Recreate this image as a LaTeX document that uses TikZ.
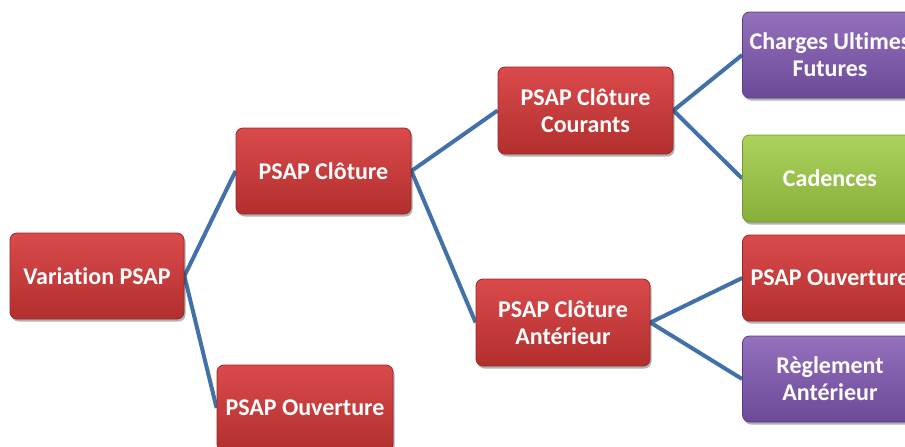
\documentclass[tikz,border=0pt]{standalone}
\usepackage{fontspec}
\setmainfont{Carlito}[Ligatures={NoCommon}]
\usetikzlibrary{shadows,backgrounds}
\definecolor{redtop}{HTML}{DA4A4B}
\definecolor{redbot}{HTML}{B22F2E}
\definecolor{redline}{HTML}{982828}
\definecolor{purtop}{HTML}{9470BD}
\definecolor{purbot}{HTML}{6C4A97}
\definecolor{purline}{HTML}{5A3C82}
\definecolor{grntop}{HTML}{ABD25C}
\definecolor{grnbot}{HTML}{87AF3A}
\definecolor{grnline}{HTML}{73962F}
\definecolor{linkblue}{HTML}{4270A8}
\tikzset{
  box/.style={rounded corners=7pt, minimum width=175pt, minimum height=86pt,
    inner sep=0pt, align=center, text=white,
    font=\fontsize{24}{27}\selectfont\bfseries,
    drop shadow={shadow xshift=1.5pt, shadow yshift=-2.5pt, opacity=0.3, fill=black}},
  redbox/.style={box, top color=redtop, bottom color=redbot, draw=redline, line width=0.8pt},
  purbox/.style={box, top color=purtop, bottom color=purbot, draw=purline, line width=0.8pt},
  grnbox/.style={box, top color=grntop, bottom color=grnbot, draw=grnline, line width=0.8pt},
  link/.style={draw=linkblue, line width=4pt, line join=round}
}
\begin{document}
\begin{tikzpicture}[x=1pt,y=-1pt]
\useasboundingbox (0,0) rectangle (905,447);
\clip (0,0) rectangle (905,447);
\node[redbox, minimum width=174pt] (var) at (97,276) {Variation PSAP};
\node[redbox] (clo) at (323.5,171) {PSAP Clôture};
\node[redbox, minimum width=176pt] (ouv) at (305,408) {PSAP Ouverture};
\node[redbox, minimum height=87pt] (cou) at (585.5,110.5) {PSAP Clôture\\Courants};
\node[redbox, minimum width=174pt, minimum height=87pt] (ant) at (563,322.5) {PSAP Clôture\\Antérieur};
\node[purbox] (cuf) at (830,55) {Charges Ultimes\\Futures};
\node[grnbox, minimum height=87pt] (cad) at (830,178.5) {Cadences};
\node[redbox] (ouv2) at (830,278) {PSAP Ouverture};
\node[purbox] (reg) at (830,379) {Règlement\\Antérieur};
\begin{scope}[on background layer]
\draw[link] (clo.west) -- (var.east) -- (ouv.west);
\draw[link] (cou.west) -- (clo.east) -- (ant.west);
\draw[link] (cuf.west) -- (cou.east) -- (cad.west);
\draw[link] (ouv2.west) -- (ant.east) -- (reg.west);
\end{scope}
\end{tikzpicture}
\end{document}
